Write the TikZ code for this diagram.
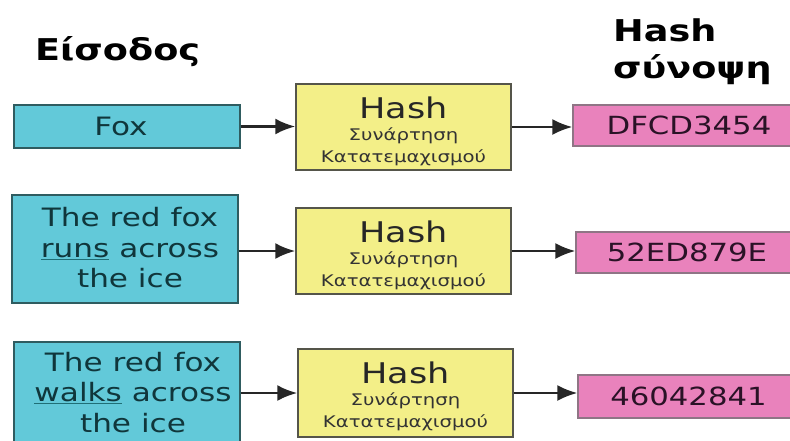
\documentclass[tikz,border=0pt]{standalone}
\usepackage{fontspec}
\setmainfont[FakeStretch=1.23]{DejaVu Sans}
\newfontfamily\titlefont[FakeStretch=1.22]{DejaVu Sans Bold}
\usetikzlibrary{arrows.meta}
\definecolor{cyanfill}{HTML}{62C9D9}
\definecolor{cyanborder}{HTML}{2F5C60}
\definecolor{cyantext}{HTML}{10363B}
\definecolor{ulcolor}{HTML}{1F6F76}
\definecolor{yelfill}{HTML}{F3EF88}
\definecolor{yelborder}{HTML}{55554A}
\definecolor{pinkfill}{HTML}{E982BC}
\definecolor{pinkborder}{HTML}{8F7585}
\definecolor{pinktext}{HTML}{2A1226}
\newcommand\ulword[1]{\textcolor{ulcolor}{\underline{\textcolor{cyantext}{#1}}}}
\begin{document}
\begin{tikzpicture}[x=1pt,y=-1pt,
  inbox/.style={draw=cyanborder, fill=cyanfill, line width=1.5pt, minimum width=226pt, inner sep=0pt},
  intext/.style={inner sep=0pt, align=center, text=cyantext, font=\fontsize{25.3}{30.5}\selectfont},
  hashbox/.style={draw=yelborder, fill=yelfill, line width=1.5pt, minimum width=215pt, inner sep=0pt},
  hashbig/.style={anchor=base, inner sep=0pt, text=black!85, font=\fontsize{28.5}{28.5}\selectfont},
  hashsmall/.style={anchor=base, inner sep=0pt, text=black!80, font=\fontsize{16}{16}\selectfont},
  outbox/.style={draw=pinkborder, fill=pinkfill, line width=1.2pt, inner sep=0pt,
    text=pinktext, font=\fontsize{25}{25}\selectfont},
  title/.style={anchor=base west, inner sep=0pt, font=\titlefont\fontsize{30}{30}\selectfont},
  arr/.style={draw=black!85, line width=2.5pt, -{Latex[length=20pt,width=16pt]}}
]
\useasboundingbox (0,0) rectangle (790,440);
\clip (0,0) rectangle (790,440);

% titles
\node[title] (tin) at (35,60) {Είσοδος};
\node[title] (th1) at (613,41) {Hash};
\node[title] (th2) at (613,78) {σύνοψη};

% row 1
\node[inbox, minimum height=43pt] (c1) at (127,126.5) {};
\node[intext] at ([xshift=-6pt]c1.center) {Fox};
\node[hashbox, minimum height=86pt] (y1) at (403.5,127) {};
\node[hashbig] at ([yshift=9pt]y1.center) {Hash};
\node[hashsmall] at ([yshift=-13pt]y1.center) {Συνάρτηση};
\node[hashsmall] at ([yshift=-35pt]y1.center) {Κατατεμαχισμού};
\node[outbox, minimum width=232pt, minimum height=41pt] (p1) at (689,125.5) {DFCD3454};

% row 2
\node[inbox, minimum height=108pt] (c2) at (125,249) {};
\node[intext] at ([xshift=5pt,yshift=1pt]c2.center) {The red fox\\\ulword{runs} across\\the ice};
\node[hashbox, minimum height=86pt] (y2) at (403.5,251) {};
\node[hashbig] at ([yshift=9pt]y2.center) {Hash};
\node[hashsmall] at ([yshift=-13pt]y2.center) {Συνάρτηση};
\node[hashsmall] at ([yshift=-35pt]y2.center) {Κατατεμαχισμού};
\node[outbox, minimum width=222pt, minimum height=41pt] (p2) at (687,252.5) {52ED879E};

% row 3
\node[inbox, minimum height=104pt] (c3) at (127,394) {};
\node[intext] at ([xshift=6pt,yshift=1.5pt]c3.center) {The red fox\\\ulword{walks} across\\the ice};
\node[hashbox, minimum height=88pt] (y3) at (405.5,393) {};
\node[hashbig] at ([yshift=10pt]y3.center) {Hash};
\node[hashsmall] at ([yshift=-12pt]y3.center) {Συνάρτηση};
\node[hashsmall] at ([yshift=-34pt]y3.center) {Κατατεμαχισμού};
\node[outbox, minimum width=221pt, minimum height=43pt] (p3) at (688.5,396.5) {46042841};

% connectors
\draw[arr] (c1.east) -- (c1.east -| y1.west);
\draw[arr] (y1.east) -- (y1.east -| p1.west);
\draw[arr] (y2.west -| c2.east) -- (y2.west);
\draw[arr] (y2.east) -- (y2.east -| p2.west);
\draw[arr] (y3.west -| c3.east) -- (y3.west);
\draw[arr] (y3.east) -- (y3.east -| p3.west);
\end{tikzpicture}
\end{document}
